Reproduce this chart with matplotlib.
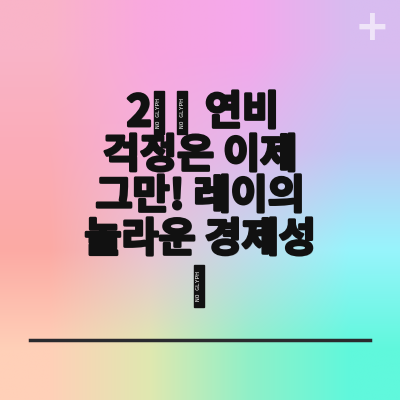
import numpy as np
import matplotlib.pyplot as plt
import matplotlib.patheffects as pe
from matplotlib.patches import Rectangle

plt.rcParams['font.family'] = ['Noto Sans CJK KR', 'DejaVu Sans']

# texto del titulo (linea por linea)
first_left = "2"
first_right = "연비"
lines = ["걱정은 이제", "그만! 레이의", "놀라운 경제성"]

# colores de fondo (rejilla 4x4, de arriba a abajo)
bg_colors = [
    ["#f9b4c8", "#f9a8e0", "#f4a8ec", "#d8bcf0"],
    ["#fbacb8", "#f4b0dc", "#e0b8ec", "#c0c8f4"],
    ["#fcaaa4", "#e8c4d4", "#c0dcec", "#98f4fc"],
    ["#ffd0b8", "#e0e8b0", "#90f0c8", "#60f8dc"],
]

def hex2rgb(h):
    return [int(h[i:i + 2], 16) / 255 for i in (1, 3, 5)]

bg = np.array([[hex2rgb(c) for c in row] for row in bg_colors])

fig = plt.figure(figsize=(4, 4), dpi=100)
ax = fig.add_axes([0, 0, 1, 1])
ax.imshow(bg, extent=[0, 400, 400, 0], interpolation='bilinear', aspect='auto')
ax.set_xlim(0, 400)
ax.set_ylim(400, 0)
ax.axis('off')

# signo + arriba a la derecha
ax.text(372, 28, "+", fontsize=30, color='white', alpha=0.6, ha='center', va='center',
        fontweight='bold', family='DejaVu Sans')

efectos = [pe.withSimplePatchShadow(offset=(1, -1), shadow_rgbFace='#555555', alpha=0.35),
           pe.withStroke(linewidth=2, foreground='#111111')]

def caja(x, y0, y1):
    # simbolo sin glifo (emoji), dibujado como caja negra
    ax.add_patch(Rectangle((x, y0), 10, y1 - y0, color='#111111'))
    ax.text(x + 5, (y0 + y1) / 2, "NO GLYPH", fontsize=4.5, color='white', rotation=90,
            ha='center', va='center', family='DejaVu Sans Mono')

# primera linea: 2 + emoji + 연비
ax.text(152, 113, first_left, fontsize=31, fontweight='bold', color='#111111',
        ha='right', va='center', path_effects=efectos)
caja(154, 91, 134)
caja(177, 91, 134)
ax.text(205, 113, first_right, fontsize=29, fontweight='bold', color='#111111',
        ha='left', va='center', path_effects=efectos)

ys = [156, 197, 240]
for txt, y in zip(lines, ys):
    ax.text(200, y, txt, fontsize=29, fontweight='bold', color='#111111',
            ha='center', va='center', path_effects=efectos)

caja(194, 265, 307)

# linea horizontal
ax.plot([30, 370], [340, 340], color='#2a2a2e', linewidth=2.5)

fig.savefig('out.png', dpi=100)
